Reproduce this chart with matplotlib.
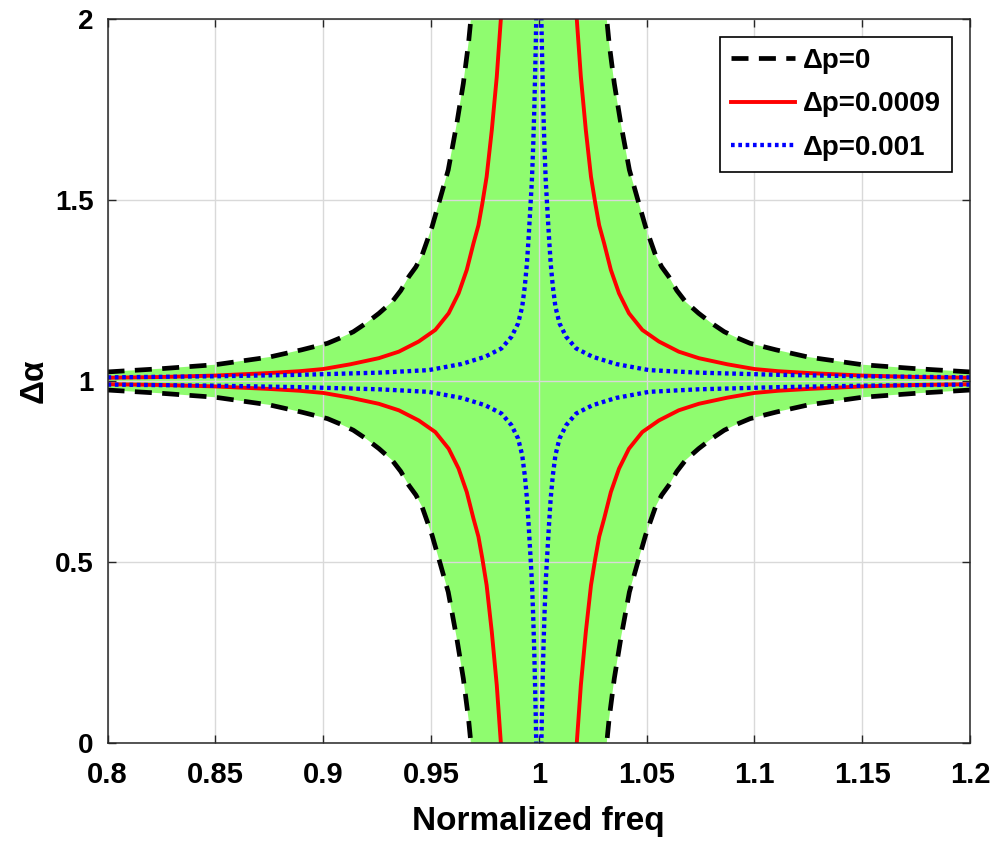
import numpy as np
import matplotlib.pyplot as plt

plt.rcParams['font.family'] = ['Liberation Sans', 'DejaVu Sans']
plt.rcParams['font.weight'] = 'bold'

# values read off the upper-left branch of each curve:
# detuning d = |freq - 1|  and offset = |delta alpha - 1|
det_black = np.array([0.200, 0.175, 0.150, 0.125, 0.110, 0.098, 0.092, 0.086, 0.080,
                      0.0741, 0.068, 0.064, 0.0603, 0.057, 0.0541, 0.0495, 0.0457,
                      0.042, 0.038, 0.035, 0.0326, 0.0315])
off_black = np.array([0.025, 0.034, 0.045, 0.066, 0.086, 0.104, 0.119, 0.136, 0.160,
                      0.187, 0.219, 0.250, 0.288, 0.315, 0.348, 0.426, 0.505,
                      0.583, 0.712, 0.822, 0.933, 1.000])

det_red = np.array([0.200, 0.175, 0.150, 0.125, 0.111, 0.100, 0.0875, 0.0742, 0.0649,
                    0.0557, 0.048, 0.0418, 0.0372, 0.0334, 0.0303, 0.028, 0.0262,
                    0.0242, 0.0218, 0.0195, 0.0176])
off_red = np.array([0.009, 0.011, 0.015, 0.022, 0.027, 0.033, 0.046, 0.063, 0.081,
                    0.109, 0.141, 0.187, 0.242, 0.307, 0.380, 0.430, 0.490,
                    0.564, 0.693, 0.840, 1.000])

det_blue = np.array([0.200, 0.150, 0.111, 0.0741, 0.0511, 0.0357, 0.0249, 0.0173,
                     0.0127, 0.0096, 0.0077, 0.0065, 0.0055, 0.0047, 0.0039, 0.0032,
                     0.0026, 0.0021, 0.0017, 0.0014, 0.0012])
off_blue = np.array([0.010, 0.013, 0.017, 0.023, 0.030, 0.047, 0.067, 0.090,
                     0.122, 0.159, 0.205, 0.261, 0.325, 0.399, 0.481, 0.555,
                     0.650, 0.750, 0.850, 0.930, 1.000])

labels = ['\u0394p=0', '\u0394p=0.0009', '\u0394p=0.001']

fig = plt.figure(figsize=(10.03, 8.6), dpi=100)
ax = fig.add_axes([0.1072, 0.136, 0.8600, 0.842])

# green band between the two black curves
px = np.concatenate([1 - det_black, 1 + det_black[::-1], 1 + det_black, 1 - det_black[::-1]])
py = np.concatenate([1 + off_black, 1 + off_black[::-1], 1 - off_black, 1 - off_black[::-1]])
ax.fill(px, py, color='#8ffc6f', lw=0, zorder=0.5)

def branches(d, off, **kw):
    lab = kw.pop('label')
    ax.plot(1 - d, 1 + off, label=lab, **kw)
    ax.plot(1 + d, 1 + off, **kw)
    ax.plot(1 - d, 1 - off, **kw)
    ax.plot(1 + d, 1 - off, **kw)

branches(det_black, off_black, color='k', lw=3.4, ls=(0, (3.6, 2.2)), label=labels[0])
branches(det_red, off_red, color='#ff0000', lw=2.8, ls='-', label=labels[1])
branches(det_blue, off_blue, color='#0000ff', lw=3.1, ls=(0, (0.85, 0.85)), label=labels[2])

ax.set_xlim(0.8, 1.2)
ax.set_ylim(0, 2)
ax.set_xticks([0.8, 0.85, 0.9, 0.95, 1, 1.05, 1.1, 1.15, 1.2])
ax.set_xticklabels(['0.8', '0.85', '0.9', '0.95', '1', '1.05', '1.1', '1.15', '1.2'])
ax.set_yticks([0, 0.5, 1, 1.5, 2])
ax.set_yticklabels(['0', '0.5', '1', '1.5', '2'])
ax.set_axisbelow('line')
ax.grid(True, color='#d9d9d9', lw=1.0)
ax.tick_params(direction='in', top=True, right=True, length=6, width=1,
               color='#262626', labelsize=20)
ax.tick_params(axis='x', labelsize=21, pad=13)
ax.tick_params(axis='y', pad=10)
for s in ax.spines.values():
    s.set_color('#262626')
    s.set_linewidth(1.1)

ax.set_xlabel('Normalized freq', fontsize=24, fontweight='bold', labelpad=12)
ax.set_ylabel('\u0394\u03b1', fontsize=24, fontweight='bold', labelpad=4)

leg = ax.legend(loc='upper right', fontsize=20, frameon=True, fancybox=False,
                edgecolor='k', framealpha=1, borderaxespad=0.65,
                handlelength=2.3, handletextpad=0.3, labelspacing=0.62,
                borderpad=0.4)
leg.get_frame().set_linewidth(1.2)
for t in leg.get_texts():
    t.set_fontweight('bold')

fig.savefig('out.png', dpi=100)
